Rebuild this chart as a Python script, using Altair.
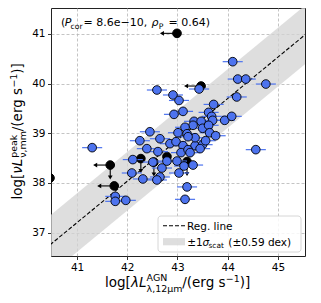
import altair as alt
import pandas as pd

# ---- data ----
blue_x = [44.10, 44.20, 44.36, 44.76, 44.18, 43.43, 42.59, 42.91, 43.03, 43.72,
          43.11, 42.93, 43.62, 43.68, 43.70, 43.33, 43.47, 43.94, 44.08, 43.31,
          43.50, 43.62, 43.64, 43.76, 43.15, 43.01, 43.19, 42.85, 42.97, 43.11,
          43.35, 43.50, 43.56, 43.35, 42.45, 42.25, 42.65, 41.30, 42.39, 42.61,
          43.07, 43.21, 42.79, 42.51, 42.99, 43.13, 43.31, 42.11, 42.09, 42.69,
          42.65, 42.31, 42.59, 43.03, 41.97, 43.19, 43.15, 43.45, 44.56, 41.76,
          41.76, 43.25, 43.21]
blue_y = [40.44, 40.09, 40.09, 39.99, 39.73, 39.89, 39.87, 39.77, 39.66, 39.58,
          39.44, 39.38, 39.42, 39.34, 39.26, 39.24, 39.24, 39.26, 39.34, 39.16,
          39.10, 39.16, 39.01, 38.95, 39.12, 39.01, 38.99, 38.79, 38.83, 38.75,
          38.75, 38.77, 38.85, 38.91, 39.03, 38.85, 38.89, 38.71, 38.69, 38.63,
          38.61, 38.67, 38.44, 38.42, 38.44, 38.34, 38.36, 38.47, 38.20, 38.30,
          38.12, 38.08, 38.06, 38.20, 37.65, 37.92, 37.67, 38.69, 38.67, 37.73,
          37.63, 38.61, 38.93]
blue_xerr = [0.2] * len(blue_x)

black_x = [42.99, 43.47, 40.46, 41.66, 41.74, 42.27, 42.53, 42.79, 43.19]
black_y = [41.01, 39.95, 38.10, 38.36, 37.94, 38.49, 38.42, 38.53, 38.43]
black_xlim = [1, 1, 1, 1, 1, 0, 0, 0, 0]
black_ylim = [0, 0, 0, 1, 0, 1, 1, 0, 1]
arrow_dx = 0.3
arrow_dy = 0.25

reg_slope = 0.832
reg_intercept = 3.091
reg_scatter = 0.59
line_x = [40.0, 46.0]

x_ticks = [41, 42, 43, 44, 45]
y_ticks = [37, 38, 39, 40, 41]

# ---- tables ----
blue = pd.DataFrame({"x": blue_x, "y": blue_y, "err": blue_xerr})
blue["xlo"] = blue["x"] - blue["err"]
blue["xhi"] = blue["x"] + blue["err"]
black = pd.DataFrame({"x": black_x, "y": black_y, "xl": black_xlim, "yl": black_ylim})
down = black[black["yl"] == 1].copy()
down["yend"] = down["y"] - arrow_dy
left = black[black["xl"] == 1].copy()
left["xend"] = left["x"] - arrow_dx
reg = pd.DataFrame({"x": line_x})
reg["y"] = reg_intercept + reg_slope * reg["x"]
reg["lo"] = reg["y"] - reg_scatter
reg["hi"] = reg["y"] + reg_scatter
one = pd.DataFrame({"a": [0]})

FONT = "DejaVu Sans"
BLUE = "#4d73ee"
xs = alt.Scale(domain=[40.48, 45.54], nice=False, zero=False)
ys = alt.Scale(domain=[36.53, 41.52], nice=False, zero=False)
xax = alt.Axis(title=None, values=x_ticks, format="d", grid=True, gridDash=[3, 2],
               gridColor="#b5b5b5", gridWidth=0.8, domain=False, tickSize=3.5,
               tickColor="black", tickWidth=0.8, labelFontSize=10.5, labelFont=FONT,
               labelColor="black", labelPadding=3)
yax = alt.Axis(title=None, values=y_ticks, format="d", grid=True, gridDash=[3, 2],
               gridColor="#b5b5b5", gridWidth=0.8, domain=False, tickSize=3.5,
               tickColor="black", tickWidth=0.8, labelFontSize=10.5, labelFont=FONT,
               labelColor="black", labelPadding=2.5)

X = lambda f="x": alt.X(f, type="quantitative", scale=xs, axis=xax)
Y = lambda f="y": alt.Y(f, type="quantitative", scale=ys, axis=yax)

band = alt.Chart(reg).mark_area(color="lightgray", opacity=0.75, clip=True).encode(
    x=X(), y=Y("lo"), y2="hi")
line = alt.Chart(reg).mark_line(color="black", strokeDash=[4, 2], strokeWidth=1.1,
                                clip=True).encode(x=X(), y=Y())

down_rule = alt.Chart(down).mark_rule(color="black", strokeWidth=1.1, clip=True).encode(
    x=X(), y=Y(), y2="yend")
down_head = alt.Chart(down).mark_point(shape="triangle-down", filled=True, color="black",
                                       size=22, opacity=1, clip=True).encode(x=X(), y=Y("yend"))
left_rule = alt.Chart(left).mark_rule(color="black", strokeWidth=1.1, clip=True).encode(
    x=X(), x2="xend", y=Y())
left_head = alt.Chart(left).mark_point(shape="triangle-left", filled=True, color="black",
                                       size=22, opacity=1, clip=True).encode(x=X("xend"), y=Y())
black_pts = alt.Chart(black).mark_point(shape="circle", filled=True, fill="black",
                                        stroke="black", strokeWidth=1, size=75, opacity=1,
                                        clip=True).encode(x=X(), y=Y())
err = alt.Chart(blue).mark_rule(color=BLUE, strokeWidth=1.2, clip=True).encode(
    x=X("xlo"), x2="xhi", y=Y())
blue_pts = alt.Chart(blue).mark_point(shape="circle", filled=True, fill=BLUE,
                                      stroke="black", strokeWidth=0.9, size=75, opacity=1,
                                      clip=True).encode(x=X(), y=Y())


def txt(s, x, y, size=11.0, style="normal", angle=0):
    return alt.Chart(one).mark_text(text=s, fontSize=size, font=FONT, fontStyle=style,
                                    angle=angle, align="left", baseline="alphabetic",
                                    color="black").encode(x=alt.value(x), y=alt.value(y))


# annotation
ann = [
    txt("(", 10, 17.8), txt("P", 13.8, 17.8, style="italic"),
    txt("cor", 19.5, 20.5, size=7.7),
    txt("= 8.6e−10,", 32.5, 17.8),
    txt("ρ", 100.5, 17.8, style="italic"),
    txt("P", 107.8, 20.5, size=7.7),
    txt("= 0.64)", 117.5, 17.8),
]

# x title
TS = 13.5
SS = 9.45
xt = [
    txt("log[", 54, 279, size=TS),
    txt("λL", 79.9, 279, size=TS, style="italic"),
    txt("AGN", 95.6, 272.5, size=SS),
    txt("λ,12μm", 95.6, 284, size=SS),
    txt("/(erg s", 131.2, 279, size=TS),
    txt("−1", 174.8, 273.5, size=SS),
    txt(")]", 188.7, 279, size=TS),
]
# y title (rotated)
yt = [
    txt("log[", -29, 191.6, size=TS, angle=270),
    txt("νL", -29, 165.7, size=TS, style="italic", angle=270),
    txt("peak", -34.3, 149.8, size=SS, angle=270),
    txt("ν,mm", -25, 149.8, size=SS, angle=270),
    txt("/(erg s", -29, 123.2, size=TS, angle=270),
    txt("−1", -34.3, 79.6, size=SS, angle=270),
    txt(")]", -29, 65.7, size=TS, angle=270),
]

# legend
leg_box = alt.Chart(one).mark_rect(fill="white", fillOpacity=0.85, stroke="#cccccc",
                                   strokeWidth=0.8, cornerRadius=3).encode(
    x=alt.value(107), x2=alt.value(250), y=alt.value(208), y2=alt.value(244))
leg_line = alt.Chart(one).mark_rule(color="black", strokeDash=[4, 2], strokeWidth=1.1).encode(
    x=alt.value(112), x2=alt.value(134), y=alt.value(217.7))
leg_patch = alt.Chart(one).mark_rect(fill="lightgray", opacity=0.75).encode(
    x=alt.value(112), x2=alt.value(134), y=alt.value(230.1), y2=alt.value(237.3))
leg_txt = [
    txt("Reg. line", 136, 221.5, size=10.5),
    txt("±1", 136.3, 237.8, size=10.5),
    txt("σ", 151.5, 237.8, size=10.5, style="italic"),
    txt("scat", 157.5, 240.3, size=7.4),
    txt("(±0.59 dex)", 177.3, 237.8, size=10.5),
]

chart = alt.layer(
    band, line, down_rule, down_head, left_rule, left_head, black_pts, err, blue_pts,
    leg_box, leg_line, leg_patch, *leg_txt, *ann, *xt, *yt
).properties(
    width=254, height=248,
    autosize=alt.AutoSizeParams(type="none"),
    padding={"left": 43, "top": 0, "right": 5, "bottom": 39},
).configure_view(stroke="#222222", strokeWidth=1)

chart.save("out.html", embed_options={"renderer": "svg", "actions": False})
